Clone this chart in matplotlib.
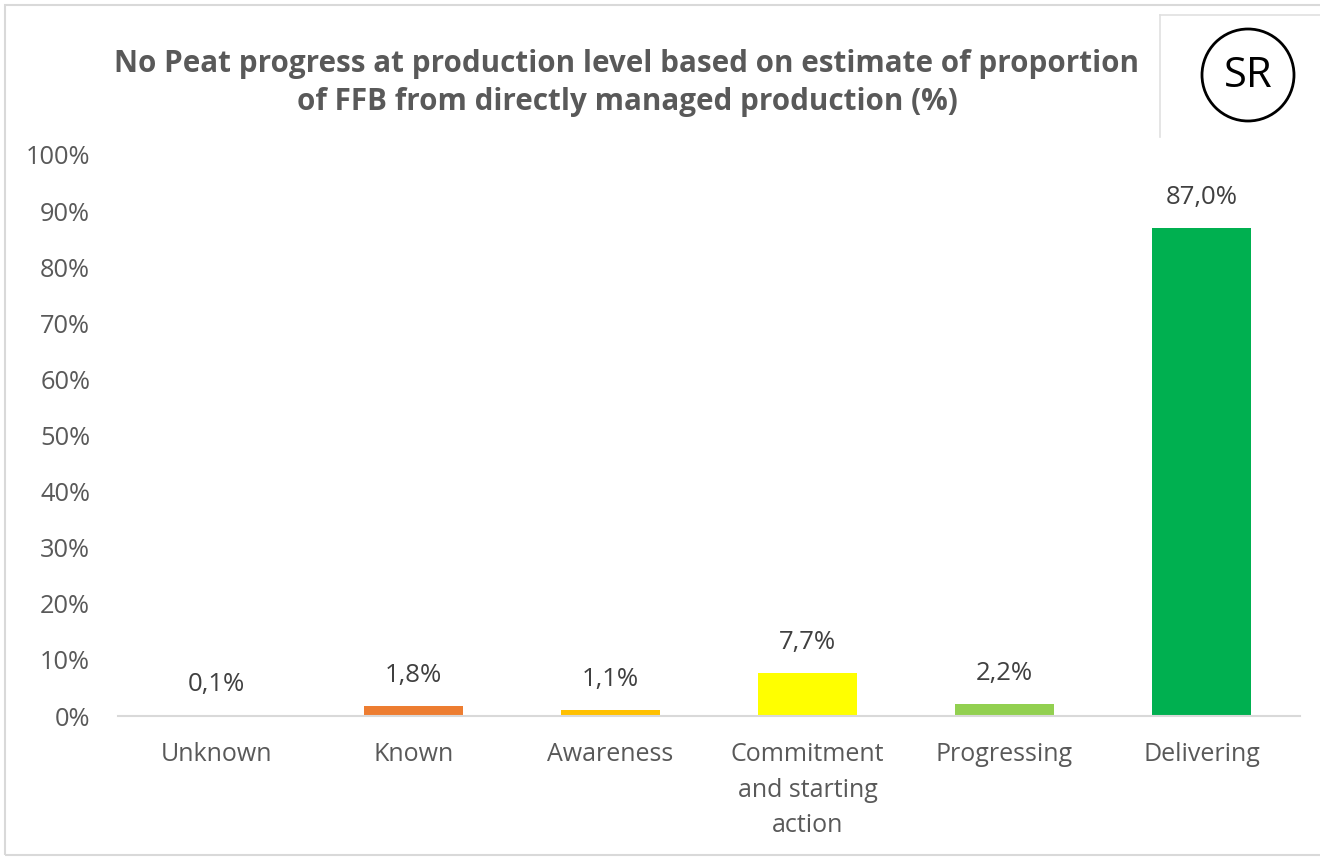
import matplotlib.pyplot as plt
from matplotlib.patches import Rectangle, Circle
from matplotlib.lines import Line2D
from matplotlib.ticker import FuncFormatter

categories = ['Unknown', 'Known', 'Awareness', 'Commitment\nand starting\naction', 'Progressing', 'Delivering']
values = [0.1, 1.8, 1.1, 7.7, 2.2, 87.0]
labels = ['0,1%', '1,8%', '1,1%', '7,7%', '2,2%', '87,0%']
colors = ['#C00000', '#ED7D31', '#FFC000', '#FFFF00', '#92D050', '#00B050']

plt.rcParams['font.family'] = ['Open Sans', 'DejaVu Sans']
W, H = 1320, 857
fig = plt.figure(figsize=(W / 100, H / 100), dpi=100)

def fx(px):
    return px / W

def fy(py):
    return 1 - py / H

ax = fig.add_axes([fx(118), fy(716), fx(1300) - fx(118), fy(155) - fy(716)])
x = list(range(len(categories)))
ax.bar(x, values, width=0.505, color=colors)
for xi, v, lab in zip(x, values, labels):
    ax.annotate(lab, (xi, v), xytext=(0, 13), textcoords='offset points',
                ha='center', va='bottom', fontsize=18.5, color='#404040')

ax.set_xlim(-0.5, len(categories) - 0.5)
ax.set_ylim(0, 100)
ax.set_yticks(range(0, 101, 10))
ax.yaxis.set_major_formatter(FuncFormatter(lambda v, p: f'{int(v)}%'))
ax.set_xticks(x)
ax.set_xticklabels(categories, linespacing=1.55)
ax.tick_params(axis='both', length=0, labelcolor='#595959')
ax.tick_params(axis='x', pad=19, labelsize=18)
ax.tick_params(axis='y', pad=20, labelsize=18.3)
for s in ['top', 'right', 'left']:
    ax.spines[s].set_visible(False)
ax.spines['bottom'].set_color('#D9D9D9')
ax.spines['bottom'].set_linewidth(1.5)

fig.text(fx(627), fy(83), 'No Peat progress at production level based on estimate of proportion\nof FFB from directly managed production (%)',
         ha='center', va='center', fontsize=21.3, fontweight='bold', color='#595959', linespacing=1.34)

# outer chart border
fig.add_artist(Rectangle((fx(5), fy(855)), fx(1330), fy(5) - fy(855), fill=False,
                         edgecolor='#D9D9D9', linewidth=1.5, transform=fig.transFigure))
# SR box
fig.add_artist(Line2D([fx(1160), fx(1160)], [fy(15), fy(137)], color='#E0E0E0', lw=1.2, transform=fig.transFigure))
fig.add_artist(Line2D([fx(1160), fx(1320)], [fy(15), fy(15)], color='#E0E0E0', lw=1.2, transform=fig.transFigure))
sr_ax = fig.add_axes([fx(1190), fy(135), fx(116), fy(15) - fy(135)])
sr_ax.set_xlim(0, 116)
sr_ax.set_ylim(0, 120)
sr_ax.set_aspect('equal')
sr_ax.axis('off')
sr_ax.add_patch(Circle((58, 60), 46, fill=False, edgecolor='black', linewidth=2))
sr_ax.text(58, 59, 'SR', ha='center', va='center', fontsize=30, color='black')

fig.savefig('out.png', dpi=100)
